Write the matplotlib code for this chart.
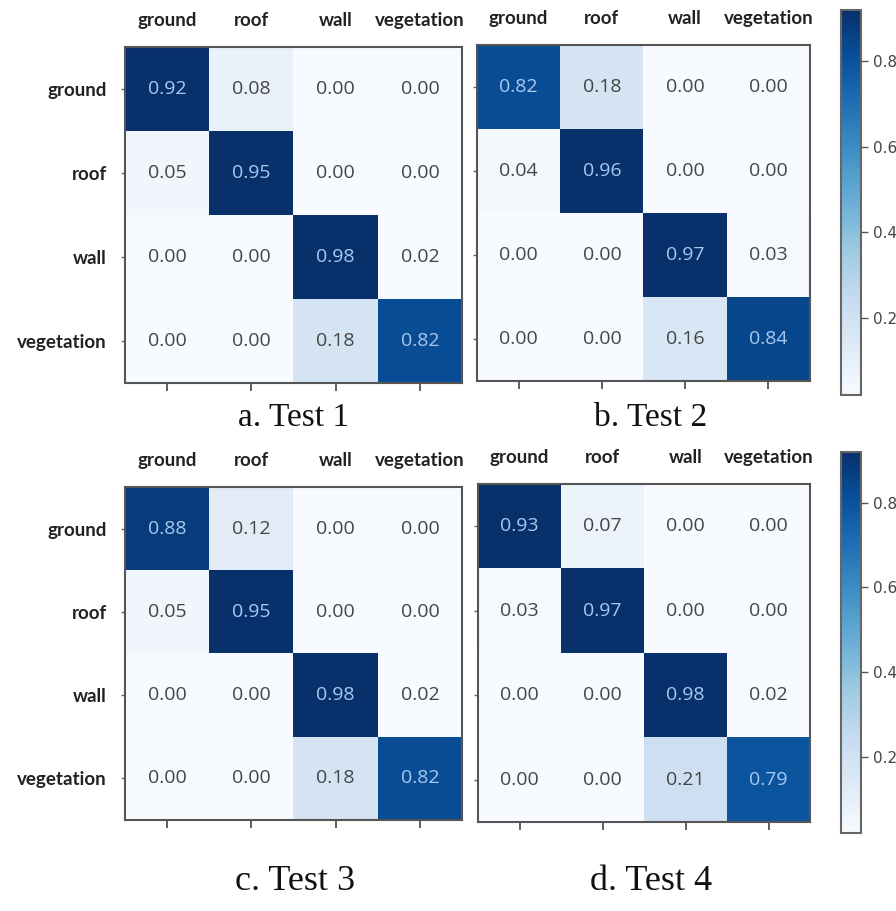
import numpy as np
import matplotlib
matplotlib.use("Agg")
import matplotlib.pyplot as plt
from matplotlib.colors import Normalize
from matplotlib.cm import ScalarMappable

classes = ["ground", "roof", "wall", "vegetation"]

test1 = [[0.92, 0.08, 0.00, 0.00],
         [0.05, 0.95, 0.00, 0.00],
         [0.00, 0.00, 0.98, 0.02],
         [0.00, 0.00, 0.18, 0.82]]
test2 = [[0.82, 0.18, 0.00, 0.00],
         [0.04, 0.96, 0.00, 0.00],
         [0.00, 0.00, 0.97, 0.03],
         [0.00, 0.00, 0.16, 0.84]]
test3 = [[0.88, 0.12, 0.00, 0.00],
         [0.05, 0.95, 0.00, 0.00],
         [0.00, 0.00, 0.98, 0.02],
         [0.00, 0.00, 0.18, 0.82]]
test4 = [[0.93, 0.07, 0.00, 0.00],
         [0.03, 0.97, 0.00, 0.00],
         [0.00, 0.00, 0.98, 0.02],
         [0.00, 0.00, 0.21, 0.79]]

captions = ["a. Test 1", "b. Test 2", "c. Test 3", "d. Test 4"]
cbar_ticks = [0.2, 0.4, 0.6, 0.8]

W, H = 896, 911
fig = plt.figure(figsize=(W / 100, H / 100), dpi=100)

def px_box(l, t, r, b):
    return [l / W, 1 - b / H, (r - l) / W, (b - t) / H]

# axes boxes in pixels: left, top, right, bottom
boxes = [(125, 47, 462, 383), (477, 45, 810, 381),
         (125, 487, 462, 820), (478, 484, 810, 822)]
show_rows = [True, False, True, False]
cbar_boxes = [(841, 10, 861, 395), (841, 452, 861, 833)]
caption_pos = [(294, 418), (651, 418), (295, 882), (651, 882)]
caption_size = [24, 24, 26, 26]

norm = Normalize(vmin=0.02, vmax=0.92, clip=True)
cmap = plt.get_cmap("Blues")
spine_col = "#555555"

for k, mat in enumerate([test1, test2, test3, test4]):
    cm = np.array(mat)
    ax = fig.add_axes(px_box(*boxes[k]))
    ax.imshow(cm, cmap=cmap, norm=norm, aspect="auto", interpolation="nearest")
    for i in range(cm.shape[0]):
        for j in range(cm.shape[1]):
            col = "#a9c9ef" if cm[i, j] > 0.5 else "#454545"
            ax.text(j, i, f"{cm[i, j]:.2f}", ha="center", va="center",
                    color=col, fontsize=14, family="Open Sans")
    ax.set_xticks(range(len(classes)))
    ax.set_yticks(range(len(classes)))
    ax.set_xticklabels(classes, fontsize=13.5, fontweight="bold", family="Lato", color="#222222")
    if show_rows[k]:
        ax.set_yticklabels(classes, fontsize=13.5, fontweight="bold", family="Lato", color="#222222")
    else:
        ax.set_yticklabels([])
    ax.tick_params(axis="x", top=False, labeltop=True, bottom=True, labelbottom=False,
                   length=6, width=1.2, color="#444444", pad=7)
    ax.tick_params(axis="y", length=3, width=1, color="#666666", pad=10)
    for s in ax.spines.values():
        s.set_color(spine_col)
        s.set_linewidth(1.5)
    cx, cy = caption_pos[k]
    fig.text(cx / W, 1 - cy / H, captions[k], ha="center", va="center",
             fontsize=caption_size[k], family="Liberation Serif", color="#111111")

for cb in cbar_boxes:
    cax = fig.add_axes(px_box(*cb))
    sm = ScalarMappable(norm=norm, cmap=cmap)
    bar = fig.colorbar(sm, cax=cax, ticks=cbar_ticks)
    bar.outline.set_edgecolor("#666666")
    bar.outline.set_linewidth(1.5)
    cax.tick_params(length=5, width=1, color="#555555", labelsize=11, labelcolor="#444444")

fig.savefig("out.png", dpi=100)
